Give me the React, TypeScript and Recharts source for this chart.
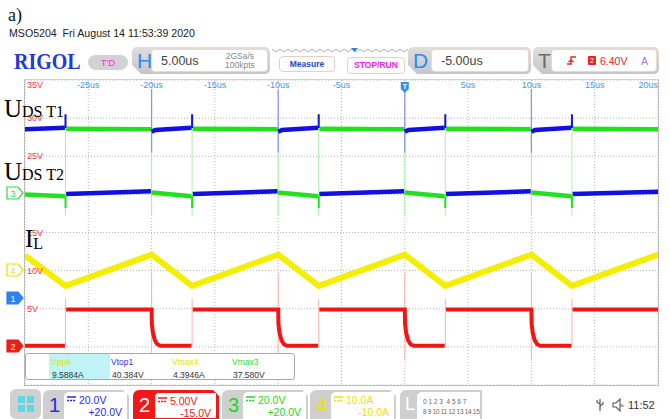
import React from "react";
import { LineChart, Line, XAxis, YAxis, CartesianGrid } from "recharts";

type Pt = [number, number | null];

// time axis in us, vertical values in ch2 screen volts (5 V/div)
const timeTicks = [-25, -20, -15, -10, -5, 0, 5, 10, 15, 20];
const timeLabels = ["-25us", "-20us", "-15us", "-10us", "-5us", "", "5us", "10us", "15us", "20us"];
const voltTicks = [35, 30, 25, 20, 15, 10, 5, 0];
// 20V and 0V sit under the traces on the scope screen
const voltLabels = ["35V", "30V", "25V", "", "15V", "10V", "5V", ""];

// UDS T1 trace (upper): blue while T1 is on, green otherwise
const t1Blue: Pt[] = [
  [-30, 28.55], [-26.85, 28.75], [-26.85, null],
  [-20, 28.2], [-19.7, 28.45], [-16.85, 28.75], [-16.85, null],
  [-10, 28.2], [-9.7, 28.45], [-6.85, 28.75], [-6.85, null],
  [0, 28.2], [0.3, 28.45], [3.15, 28.75], [3.15, null],
  [10, 28.2], [10.3, 28.45], [13.15, 28.75],
];
const t1Green: Pt[] = [
  [-26.75, 28.6], [-20.05, 28.55], [-20.05, null],
  [-16.75, 28.6], [-10.05, 28.55], [-10.05, null],
  [-6.75, 28.6], [-0.05, 28.55], [-0.05, null],
  [3.25, 28.6], [9.95, 28.55], [9.95, null],
  [13.25, 28.6], [20, 28.55],
];
// UDS T2 trace (lower)
const t2Blue: Pt[] = [
  [-26.75, 20.05], [-20.05, 20.4], [-20.05, null],
  [-16.75, 20.05], [-10.05, 20.4], [-10.05, null],
  [-6.75, 20.05], [-0.05, 20.4], [-0.05, null],
  [3.25, 20.05], [9.95, 20.4], [9.95, null],
  [13.25, 20.05], [20, 20.35],
];
const t2Green: Pt[] = [
  [-30, 20.0], [-26.85, 19.75], [-26.85, null],
  [-20, 20.25], [-16.85, 19.75], [-16.85, null],
  [-10, 20.25], [-6.85, 19.75], [-6.85, null],
  [0, 20.25], [3.15, 19.75], [3.15, null],
  [10, 20.25], [13.15, 19.75],
];
// switching edges (thin traces)
const greenEdges: Pt[] = [
  [-26.8, 29.6], [-26.8, 17.2], [-26.8, null],
  [-20, 29.6], [-20, 17.2], [-20, null],
  [-16.8, 29.6], [-16.8, 17.2], [-16.8, null],
  [-10, 29.6], [-10, 17.2], [-10, null],
  [-6.8, 29.6], [-6.8, 17.2], [-6.8, null],
  [0, 29.6], [0, 17.2], [0, null],
  [3.2, 29.6], [3.2, 17.2], [3.2, null],
  [10, 29.6], [10, 17.2], [10, null],
  [13.2, 29.6], [13.2, 17.2],
];
const blueOnSpikes: Pt[] = [
  [-20, 25.5], [-20, 33.8], [-20, null],
  [-10, 25.5], [-10, 33.8], [-10, null],
  [0, 25.5], [0, 33.8], [0, null],
  [10, 25.5], [10, 33.8],
];
const blueOffSpikes: Pt[] = [
  [-26.8, 28.7], [-26.8, 30.5], [-26.8, null],
  [-16.8, 28.7], [-16.8, 30.5], [-16.8, null],
  [-6.8, 28.7], [-6.8, 30.5], [-6.8, null],
  [3.2, 28.7], [3.2, 30.5], [3.2, null],
  [13.2, 28.7], [13.2, 30.5],
];
const greenOffSpikes: Pt[] = [
  [-26.8, 19.8], [-26.8, 18.2], [-26.8, null],
  [-16.8, 19.8], [-16.8, 18.2], [-16.8, null],
  [-6.8, 19.8], [-6.8, 18.2], [-6.8, null],
  [3.2, 19.8], [3.2, 18.2], [3.2, null],
  [13.2, 19.8], [13.2, 18.2],
];
// inductor current I_L
const ilTrace: Pt[] = [
  [-30, 12.0], [-26.8, 8.0], [-20, 12.1], [-16.8, 8.0], [-10, 12.1],
  [-6.8, 8.0], [0, 12.1], [3.2, 8.0], [10, 12.1], [13.2, 8.0], [20, 12.1],
];
// channel 2 (red)
const redTrace: Pt[] = [
  [-30, 0.15], [-26.85, 0.15], [-26.85, null],
  [-26.75, 4.9], [-20, 4.9], [-19.98, 3.0], [-19.9, 1.9], [-19.75, 0.9], [-19.55, 0.35], [-19.3, 0.15], [-16.85, 0.15], [-16.85, null],
  [-16.75, 4.9], [-10, 4.9], [-9.98, 3.0], [-9.9, 1.9], [-9.75, 0.9], [-9.55, 0.35], [-9.3, 0.15], [-6.85, 0.15], [-6.85, null],
  [-6.75, 4.9], [0, 4.9], [0.02, 3.0], [0.1, 1.9], [0.25, 0.9], [0.45, 0.35], [0.7, 0.15], [3.15, 0.15], [3.15, null],
  [3.25, 4.9], [10, 4.9], [10.02, 3.0], [10.1, 1.9], [10.25, 0.9], [10.45, 0.35], [10.7, 0.15], [13.15, 0.15], [13.15, null],
  [13.25, 4.9], [20, 4.9],
];
const redEdges: Pt[] = [
  [-26.8, 0.15], [-26.8, 6.3], [-26.8, null],
  [-20, 9.6], [-20, -1.8], [-20, null],
  [-16.8, 0.15], [-16.8, 6.3], [-16.8, null],
  [-10, 9.6], [-10, -1.8], [-10, null],
  [-6.8, 0.15], [-6.8, 6.3], [-6.8, null],
  [0, 9.6], [0, -1.8], [0, null],
  [3.2, 0.15], [3.2, 6.3], [3.2, null],
  [10, 9.6], [10, -1.8], [10, null],
  [13.2, 0.15], [13.2, 6.3],
];

const pts = (a: Pt[]) => a.map(([t, v]) => ({ t, v }));

const series = [
  { key: "greenEdges", data: greenEdges, color: "#a8f0a8", width: 1 },
  { key: "redEdges", data: redEdges, color: "#ffb0b0", width: 1 },
  { key: "blueOnSpikes", data: blueOnSpikes, color: "#8c8cf4", width: 1.2 },
  { key: "il", data: ilTrace, color: "#f4ee00", width: 6 },
  { key: "red", data: redTrace, color: "#f41414", width: 4 },
  { key: "t2Green", data: t2Green, color: "#20e020", width: 4.5 },
  { key: "t2Blue", data: t2Blue, color: "#1010e0", width: 4.5 },
  { key: "t1Green", data: t1Green, color: "#20e020", width: 4.5 },
  { key: "t1Blue", data: t1Blue, color: "#1010e0", width: 4.5 },
  { key: "blueOffSpikes", data: blueOffSpikes, color: "#1010e0", width: 2 },
  { key: "greenOffSpikes", data: greenOffSpikes, color: "#20e020", width: 2 },
];

const PW = 633;
const PH = 305;
const OFF = 2; // two 1px axes on top and on the left
const UI = "'Liberation Sans', Arial, Helvetica, sans-serif";
const SERIF = "'Liberation Serif', 'Times New Roman', serif";
const minorTime = Array.from({ length: 51 }, (_, i) => -30 + i);
const minorVolt = Array.from({ length: 41 }, (_, i) => -5 + i);

const TimeTick = (props: any) => {
  const { x, payload } = props;
  const y0 = OFF;
  if (payload.value === 0) {
    return (
      <g>
        <path d={`M${x - 4},${y0 + 2} h8 v7 l-4,4 l-4,-4 z`} fill="#3a8ee6" />
        <text x={x} y={y0 + 9} textAnchor="middle" fill="#fff" fontSize={7} fontFamily={UI} fontWeight="bold">T</text>
      </g>
    );
  }
  const label = timeLabels[timeTicks.indexOf(payload.value)];
  return (
    <text x={x} y={y0 + 8} textAnchor={payload.value === 20 ? "end" : "middle"} fill="#4a94ec" fontSize={9} fontFamily={UI}>
      {label}
    </text>
  );
};

const VoltTick = (props: any) => {
  const { y, payload } = props;
  const label = voltLabels[voltTicks.indexOf(payload.value)];
  if (!label) return <g />;
  return (
    <text x={OFF + 2} y={Math.max(y, OFF + 5)} dominantBaseline="central" fill="#f03a3a" fontSize={9} fontFamily={UI}>
      {label}
    </text>
  );
};

const MinorTimeTick = (props: any) => {
  const { x } = props;
  return (
    <g stroke="#a0a0a0">
      <line x1={x} x2={x} y1={OFF} y2={OFF + 3} />
      <line x1={x} x2={x} y1={OFF + PH - 3} y2={OFF + PH} />
    </g>
  );
};

const MinorVoltTick = (props: any) => {
  const { y } = props;
  return (
    <g stroke="#a0a0a0">
      <line x1={OFF} x2={OFF + 3} y1={y} y2={y} />
      <line x1={OFF + PW - 3} x2={OFF + PW} y1={y} y2={y} />
    </g>
  );
};

const DC = ({ color }: { color: string }) => (
  <svg width={9} height={6} style={{ marginRight: 3, verticalAlign: "middle", position: "relative", top: -2 }}>
    <line x1={0} x2={9} y1={1} y2={1} stroke={color} strokeWidth={1.3} />
    <line x1={0} x2={9} y1={4.5} y2={4.5} stroke={color} strokeWidth={1.3} strokeDasharray="2 1" />
  </svg>
);

const Tab = ({ left, width, letter, letterColor, innerLeft, children }: any) => (
  <div
    style={{
      position: "absolute", left, top: 47, width, height: 27,
      background: "linear-gradient(#dedede, #c6c6c6)", borderRadius: 5,
      clipPath: "polygon(0 0, 100% 0, 100% 100%, 9px 100%, 0 calc(100% - 9px))",
    }}
  >
    <div style={{ position: "absolute", left: 5, top: 1, fontSize: 21, lineHeight: "25px", color: letterColor }}>{letter}</div>
    <div
      style={{
        position: "absolute", left: innerLeft, top: 2, right: 2, bottom: 2, background: "#fff",
        border: "1px solid #ead9c8", borderRadius: 4,
      }}
    >
      {children}
    </div>
  </div>
);

const ChanBox = ({ left, num, color, scale, offset, filled }: any) => (
  <div
    style={{
      position: "absolute", left, top: 390, width: 86, height: 29,
      background: filled ? color : "#cfcfcf", borderTopLeftRadius: 6,
      clipPath: "polygon(0 0, calc(100% - 6px) 0, 100% 6px, 100% 100%, 0 100%)",
    }}
  >
    <div style={{ position: "absolute", left: 6, top: 3, fontSize: 20, lineHeight: "24px", color: filled ? "#fff" : color }}>{num}</div>
    <div
      style={{
        position: "absolute", left: 21, top: 2, width: 63, height: 27, background: "#fff",
        borderTopLeftRadius: 5, boxSizing: "border-box", border: filled ? `1px solid ${color}` : "none",
      }}
    >
      <div style={{ position: "absolute", left: 3, top: 2, fontSize: 10.5, lineHeight: "12px", color, whiteSpace: "nowrap" }}>
        <DC color={color} />
        {scale}
      </div>
      <div style={{ position: "absolute", right: 5, top: 14, fontSize: 10.5, lineHeight: "12px", color }}>{offset}</div>
    </div>
  </div>
);

const Marker = ({ top, num, color, filled }: any) => (
  <svg style={{ position: "absolute", left: 6, top: top - 7 }} width={19} height={14}>
    <path d="M1,1 h11 l5,6 l-5,6 h-11 z" fill={filled ? color : "#fff"} stroke={color} strokeWidth={1.2} />
    <text x={7} y={10.5} textAnchor="middle" fontSize={9} fontFamily={UI} fill={filled ? "#fff" : color}>{num}</text>
  </svg>
);

const zigzag = Array.from({ length: 35 }, (_, i) => `${272 + i * 4},${i % 2 ? 52 : 49}`).join(" ");

export default function App() {
  return (
    <div style={{ position: "absolute", left: 0, top: 0, width: 670, height: 419, background: "#fff", overflow: "hidden", fontFamily: UI }}>
      <div style={{ position: "absolute", left: 8, top: 6, fontFamily: SERIF, fontSize: 18, lineHeight: "18px", color: "#111" }}>a)</div>
      <div style={{ position: "absolute", left: 9, top: 27, fontSize: 10.6, lineHeight: "12px", color: "#222", whiteSpace: "pre" }}>
        MSO5204  Fri August 14 11:53:39 2020
      </div>

      {/* toolbar */}
      <div style={{ position: "absolute", left: 14, top: 49, fontFamily: SERIF, fontWeight: "bold", fontSize: 23, lineHeight: "26px", color: "#1f3bd0", transform: "scaleX(0.87)", transformOrigin: "left center" }}>RIGOL</div>
      <div style={{ position: "absolute", left: 88, top: 55, width: 40, height: 15, borderRadius: 8, background: "#d2d2d2", color: "#f02ee6", fontSize: 9.5, lineHeight: "15px", textAlign: "center" }}>T'D</div>
      <Tab left={132} width={138} letter="H" letterColor="#2d8cf0" innerLeft={19}>
        <div style={{ position: "absolute", left: 9, top: 4, fontSize: 12.5, lineHeight: "15px", color: "#444" }}>5.00us</div>
        <div style={{ position: "absolute", left: 73, top: 2, fontSize: 8.5, lineHeight: "9px", color: "#888", textAlign: "center" }}>2GSa/s<br />100kpts</div>
      </Tab>
      <svg style={{ position: "absolute", left: 0, top: 0 }} width={670} height={80}>
        <polyline points={zigzag} fill="none" stroke="#9a9a9a" strokeWidth={0.8} />
        <path d="M351,48 h7 l-3.5,4 z" fill="#2e7fe0" />
      </svg>
      <div style={{ position: "absolute", left: 279, top: 56, width: 56, height: 16, boxSizing: "border-box", border: "1.5px solid #ebcdc2", borderRadius: 4, background: "#fff", color: "#2448c8", fontWeight: "bold", fontSize: 8.5, lineHeight: "14px", textAlign: "center" }}>Measure</div>
      <div style={{ position: "absolute", left: 347, top: 57, width: 58, height: 17, boxSizing: "border-box", border: "1.5px solid #ebcdc2", borderRadius: 4, background: "#fff", color: "#e626e6", fontWeight: "bold", fontSize: 8.5, lineHeight: "15px", textAlign: "center" }}>STOP/RUN</div>
      <Tab left={408} width={123} letter="D" letterColor="#2d8cf0" innerLeft={23}>
        <div style={{ position: "absolute", left: 9, top: 4, fontSize: 12.5, lineHeight: "15px", color: "#444" }}>-5.00us</div>
      </Tab>
      <Tab left={533} width={126} letter="T" letterColor="#6a6a6a" innerLeft={18}>
        <svg style={{ position: "absolute", left: 14, top: 5 }} width={12} height={12}>
          <path d="M1,9 h4 v-7 h5 M5,5 l-2.5,2 M5,5 l2.5,2" stroke="#f02020" strokeWidth={1.4} fill="none" />
        </svg>
        <div style={{ position: "absolute", left: 36, top: 6, width: 8, height: 9, background: "#ee2020", borderRadius: 1, color: "#fff", fontSize: 7, lineHeight: "9px", textAlign: "center" }}>2</div>
        <div style={{ position: "absolute", left: 48, top: 4, fontSize: 10.5, lineHeight: "15px", color: "#ee2020" }}>6.40V</div>
        <div style={{ position: "absolute", left: 89, top: 4, fontSize: 10.5, lineHeight: "15px", color: "#b070f0" }}>A</div>
      </Tab>

      {/* screen frame */}
      <div style={{ position: "absolute", left: 24, top: 79, width: PW + 2, height: PH + 2, boxSizing: "border-box", borderLeft: "1px solid #bdbdbd", borderRight: "1px solid #bdbdbd", borderBottom: "1px solid #bdbdbd", borderTop: "1px solid #d6d6d6" }} />

      <div style={{ position: "absolute", left: 25 - OFF, top: 80 - OFF }}>
        <LineChart width={PW + OFF} height={PH + OFF} margin={{ top: 0, right: 0, bottom: 0, left: 0 }}>
          <XAxis xAxisId="t" dataKey="t" type="number" domain={[-30, 20]} ticks={timeTicks} orientation="top" height={1} interval={0} axisLine={false} tickLine={false} tick={<TimeTick />} allowDataOverflow />
          <XAxis xAxisId="m" dataKey="t" type="number" domain={[-30, 20]} ticks={minorTime} orientation="top" height={1} interval={0} axisLine={false} tickLine={false} tick={<MinorTimeTick />} />
          <YAxis yAxisId="v" type="number" domain={[-5, 35]} ticks={voltTicks} width={1} interval={0} axisLine={false} tickLine={false} tick={<VoltTick />} allowDataOverflow />
          <YAxis yAxisId="mv" type="number" domain={[-5, 35]} ticks={minorVolt} width={1} interval={0} axisLine={false} tickLine={false} tick={<MinorVoltTick />} />
          <CartesianGrid xAxisId="t" yAxisId="v" stroke="#b4b4b4" strokeDasharray="1 2" />
          {series.map((s) => (
            <Line
              key={s.key}
              data={pts(s.data)}
              dataKey="v"
              xAxisId="t"
              yAxisId="v"
              stroke={s.color}
              strokeWidth={s.width}
              dot={false}
              activeDot={false}
              connectNulls={false}
              isAnimationActive={false}
            />
          ))}
        </LineChart>
      </div>

      {/* channel markers */}
      <Marker top={193} num="3" color="#3ad63a" />
      <Marker top={270} num="4" color="#e8e000" />
      <Marker top={298} num="1" color="#2c82ee" filled />
      <Marker top={346} num="2" color="#ee1c1c" filled />

      {/* measurements */}
      <div style={{ position: "absolute", left: 25, top: 353, width: 270, height: 27, boxSizing: "border-box", border: "1px solid #a8a8a8", borderRadius: 3, background: "#fff", fontSize: 8.5, lineHeight: "10px" }}>
        <div style={{ position: "absolute", left: 23, top: 0, width: 61, height: 25, background: "#bff4f7" }} />
        <div style={{ position: "absolute", left: 25, top: 3, color: "#e6e000" }}>Vpp4</div>
        <div style={{ position: "absolute", left: 26, top: 16, color: "#333" }}>9.5884A</div>
        <div style={{ position: "absolute", left: 85, top: 3, color: "#3030e0" }}>Vtop1</div>
        <div style={{ position: "absolute", left: 86, top: 16, color: "#333" }}>40.384V</div>
        <div style={{ position: "absolute", left: 146, top: 3, color: "#e6e000" }}>Vmax4</div>
        <div style={{ position: "absolute", left: 147, top: 16, color: "#333" }}>4.3946A</div>
        <div style={{ position: "absolute", left: 206, top: 3, color: "#30d830" }}>Vmax3</div>
        <div style={{ position: "absolute", left: 207, top: 16, color: "#333" }}>37.580V</div>
      </div>

      {/* bottom bar */}
      <div style={{ position: "absolute", left: 10, top: 389, width: 31, height: 30, background: "#d0d0d0", borderRadius: 6 }}>
        <div style={{ position: "absolute", left: 8, top: 7, width: 7, height: 7, background: "#5ed6e6" }} />
        <div style={{ position: "absolute", left: 17, top: 7, width: 7, height: 7, background: "#5ed6e6" }} />
        <div style={{ position: "absolute", left: 8, top: 16, width: 7, height: 7, background: "#5ed6e6" }} />
        <div style={{ position: "absolute", left: 17, top: 16, width: 7, height: 7, background: "#5ed6e6" }} />
      </div>
      <ChanBox left={43} num="1" color="#2a2ae8" scale="20.0V" offset="+20.0V" />
      <ChanBox left={133} num="2" color="#f01818" scale="5.00V" offset="-15.0V" filled />
      <ChanBox left={222} num="3" color="#22d622" scale="20.0V" offset="+20.0V" />
      <ChanBox left={310} num="4" color="#ece400" scale="10.0A" offset="-10.0A" />
      <div style={{ position: "absolute", left: 400, top: 390, width: 82, height: 29, background: "#cfcfcf", borderTopLeftRadius: 6 }}>
        <div style={{ position: "absolute", left: 5, top: 3, fontSize: 18, lineHeight: "22px", color: "#fff" }}>L</div>
        <div style={{ position: "absolute", left: 17, top: 2, width: 63, height: 27, background: "#fff", borderTopLeftRadius: 5, color: "#666", fontSize: 6.5, lineHeight: "10px" }}>
          <div style={{ position: "absolute", left: 6, top: 5, whiteSpace: "pre" }}>0 1 2 3  4 5 6 7</div>
          <div style={{ position: "absolute", left: 6, top: 15, whiteSpace: "pre", letterSpacing: -0.3 }}>8 9 10 11 12 13 14 15</div>
        </div>
      </div>
      <svg style={{ position: "absolute", left: 594, top: 397 }} width={30} height={16}>
        <path d="M6,2 v12 M6,7 l-3,-2 v-2 M6,9 l3,-2 v-2" stroke="#555" strokeWidth={1.2} fill="none" />
        <path d="M19,6 h3 l4,-4 v12 l-4,-4 h-3 z" fill="none" stroke="#555" strokeWidth={1.1} />
      </svg>
      <div style={{ position: "absolute", left: 620, top: 402, fontSize: 7, lineHeight: "8px", color: "#555" }}>×</div>
      <div style={{ position: "absolute", left: 628, top: 399, fontSize: 11, lineHeight: "13px", color: "#333" }}>11:52</div>

      {/* annotations */}
      <div style={{ position: "absolute", left: 4, top: 96, fontFamily: SERIF, fontSize: 25, lineHeight: "25px", color: "#000", whiteSpace: "nowrap" }}>
        U<span style={{ fontSize: 16 }}>DS T1</span>
      </div>
      <div style={{ position: "absolute", left: 4, top: 159, fontFamily: SERIF, fontSize: 25, lineHeight: "25px", color: "#000", whiteSpace: "nowrap" }}>
        U<span style={{ fontSize: 16 }}>DS T2</span>
      </div>
      <div style={{ position: "absolute", left: 25, top: 226, fontFamily: SERIF, fontSize: 25, lineHeight: "25px", color: "#000", whiteSpace: "nowrap" }}>
        I<span style={{ fontSize: 16, position: "relative", top: 2 }}>L</span>
      </div>
    </div>
  );
}
